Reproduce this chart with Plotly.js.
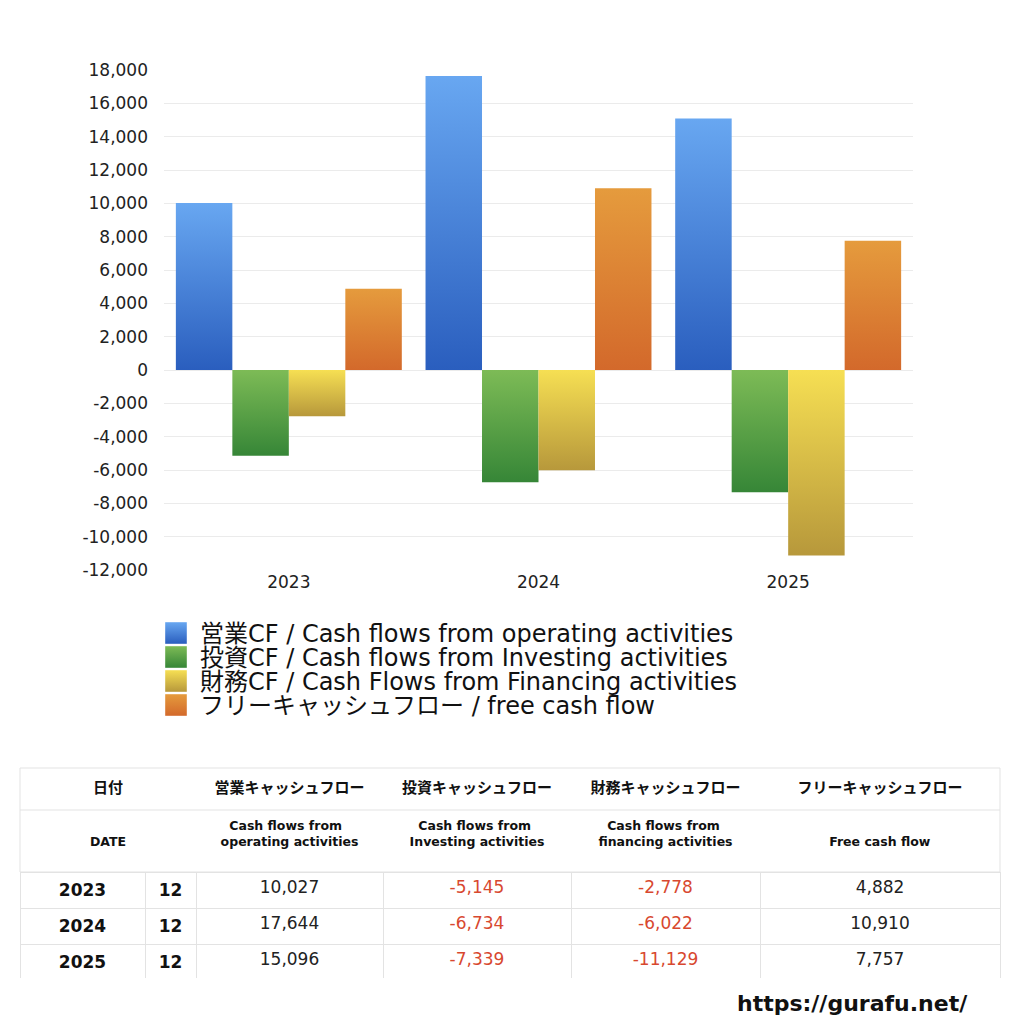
<!DOCTYPE html>
<html><head><meta charset="utf-8">
<script src="https://cdn.plot.ly/plotly-3.0.1.min.js"></script>
<style>html,body{margin:0;padding:0;background:#fff;}#chart{width:1024px;height:1024px;}</style>
</head><body><div id="chart"></div>
<script>
// ---- data ----
const years = ['2023', '2024', '2025'];
const months = ['12', '12', '12'];
const operatingCF = [10027, 17644, 15096];
const investingCF = [-5145, -6734, -7339];
const financingCF = [-2778, -6022, -11129];
const freeCF = [4882, 10910, 7757];
const seriesNames = [
  '営業CF / Cash flows from operating activities',
  '投資CF / Cash flows from Investing activities',
  '財務CF / Cash Flows from Financing activities',
  'フリーキャッシュフロー / free cash flow'
];
const tableHeaderJP = ['日付', '営業キャッシュフロー', '投資キャッシュフロー', '財務キャッシュフロー', 'フリーキャッシュフロー'];
const tableHeaderEN = ['&nbsp;<br>DATE',
  '&nbsp;&nbsp;Cash flows from<br>operating activities',
  '&nbsp;&nbsp;Cash flows from<br>Investing activities',
  '&nbsp;&nbsp;Cash flows from<br>financing activities',
  '&nbsp;<br>Free cash flow'];
const yTickVals = [-12000,-10000,-8000,-6000,-4000,-2000,0,2000,4000,6000,8000,10000,12000,14000,16000,18000];

// ---- style ----
const gradients = [
  ['#68a7f1', '#2a5ebe'],
  ['#7dbb56', '#368637'],
  ['#f6df53', '#b7983b'],
  ['#e59b3d', '#d3692b']
];
const midColors = ['#4a84d8', '#5aa047', '#d7bd48', '#dc8234'];
const FONT = '"DejaVu Sans", "Noto Sans CJK JP", sans-serif';
const FONTJP = '"Noto Sans CJK JP", "DejaVu Sans", sans-serif';
const W = 1024, H = 1024;
const px = v => v / W, py = v => 1 - v / H;
const fmt = v => v.toLocaleString('en-US');
const RED = '#d8482f', DARK = '#222222', LINE = '#e3e3e3';

const seriesValues = [operatingCF, investingCF, financingCF, freeCF];
const traces = seriesValues.map((vals, i) => ({
  type: 'bar', x: years, y: vals, name: seriesNames[i],
  marker: {color: midColors[i], line: {width: 0}},
  hoverinfo: 'none'
}));

const colColor = v => v < 0 ? RED : DARK;

// Header table (Japanese + English rows)
traces.push({
  type: 'table',
  domain: {x: [px(20), px(1000)], y: [py(872), py(768)]},
  columnwidth: [176, 187, 188, 189, 240],
  header: {
    values: tableHeaderJP.map(t => '<b>' + t + '</b>'),
    height: 42, align: 'center', fill: {color: '#ffffff'},
    line: {color: '#ffffff', width: 1},
    font: {family: FONTJP, size: 15, color: '#111'}
  },
  cells: {
    values: tableHeaderEN.map(t => ['<b>' + t + '</b>']),
    height: 62, align: 'center', fill: {color: '#ffffff'},
    line: {color: '#ffffff', width: 1},
    font: {family: FONT, size: 12.5, color: '#111'}
  }
});

// Data table: first row in header slot, remaining rows as cells
const dataCols = [years.map(y => '<b>' + y + '</b>'), months.map(m => '<b>' + m + '</b>'),
  operatingCF.map(fmt), investingCF.map(fmt), financingCF.map(fmt), freeCF.map(fmt)];
const rawCols = [null, null, operatingCF, investingCF, financingCF, freeCF];
traces.push({
  type: 'table',
  domain: {x: [px(20), px(1000)], y: [py(978), py(872)]},
  columnwidth: [125, 51, 187, 188, 189, 240],
  header: {
    values: dataCols.map(c => c[0]),
    height: 36, align: 'center', fill: {color: '#ffffff'},
    line: {color: LINE, width: 1},
    font: {family: FONT, size: 17, color: rawCols.map(c => c ? colColor(c[0]) : '#111')}
  },
  cells: {
    values: dataCols.map(c => c.slice(1)),
    height: 36, align: 'center', fill: {color: '#ffffff'},
    line: {color: LINE, width: 1},
    font: {family: FONT, size: 17,
      color: rawCols.map(c => c ? c.slice(1).map(colColor) : ['#111', '#111'])}
  }
});

const layout = {
  width: W, height: H,
  margin: {l: 0, r: 0, t: 0, b: 0},
  paper_bgcolor: '#ffffff', plot_bgcolor: '#ffffff',
  font: {family: FONT, color: '#222'},
  barmode: 'group', bargap: 0.095, bargroupgap: 0,
  showlegend: true,
  legend: {
    x: px(160), y: py(621), xanchor: 'left', yanchor: 'top',
    font: {family: FONT, size: 24, color: '#111'},
    bgcolor: 'rgba(0,0,0,0)', tracegroupgap: 0, traceorder: 'normal'
  },
  xaxis: {
    domain: [px(164), px(913)], anchor: 'y',
    type: 'category', showgrid: false, zeroline: false, showline: false,
    tickfont: {family: FONT, size: 17, color: '#222'}, ticks: '', fixedrange: true
  },
  yaxis: {
    domain: [py(570), py(70)], anchor: 'x',
    range: [-12000, 18000], tickvals: yTickVals, ticktext: yTickVals.map(fmt),
    showgrid: true, gridcolor: '#ebebeb', gridwidth: 1,
    zeroline: true, zerolinecolor: '#ebebeb', zerolinewidth: 1,
    showline: false, ticks: '', ticklabelstandoff: 15,
    tickfont: {family: FONT, size: 17, color: '#222'}, fixedrange: true
  },
  shapes: [
    {type: 'rect', xref: 'paper', yref: 'paper', x0: px(20), x1: px(1000), y0: py(872), y1: py(768),
      line: {color: LINE, width: 1}, fillcolor: 'rgba(0,0,0,0)', layer: 'above'},
    {type: 'line', xref: 'paper', yref: 'paper', x0: px(20), x1: px(1000), y0: py(810), y1: py(810),
      line: {color: LINE, width: 1}, layer: 'above'}
  ],
  annotations: [{
    text: '<b>https://gurafu.net/</b>', xref: 'paper', yref: 'paper',
    x: px(970), y: py(1003), xanchor: 'right', yanchor: 'middle', showarrow: false,
    font: {family: FONT, size: 22, color: '#111'}
  }]
};

function applyGradients(gd) {
  const svg = gd.querySelector('svg.main-svg');
  const NS = 'http://www.w3.org/2000/svg';
  let defs = svg.querySelector('defs');
  if (!defs) { defs = document.createElementNS(NS, 'defs'); svg.insertBefore(defs, svg.firstChild); }
  gradients.forEach((g, i) => {
    const lg = document.createElementNS(NS, 'linearGradient');
    lg.setAttribute('id', 'cfgrad' + i);
    lg.setAttribute('x1', '0'); lg.setAttribute('y1', '0');
    lg.setAttribute('x2', '0'); lg.setAttribute('y2', '1');
    [[0, g[0]], [1, g[1]]].forEach(([o, c]) => {
      const s = document.createElementNS(NS, 'stop');
      s.setAttribute('offset', o); s.setAttribute('stop-color', c);
      lg.appendChild(s);
    });
    defs.appendChild(lg);
  });
  gd.querySelectorAll('.barlayer .trace').forEach((t, i) => {
    t.querySelectorAll('path').forEach(p => { p.style.fill = 'url(#cfgrad' + i + ')'; });
  });
  gd.querySelectorAll('.legend .traces').forEach((t, i) => {
    t.setAttribute('transform', 'translate(0,' + (i * 24 + 12) + ')');
    t.querySelectorAll('.legendpoints path').forEach(p => {
      p.style.fill = 'url(#cfgrad' + i + ')';
      p.setAttribute('transform', 'translate(16,0) scale(1.8)');
      p.style.strokeWidth = '0';
    });
  });
}

Plotly.newPlot('chart', traces, layout, {displayModeBar: false, staticPlot: true}).then(applyGradients);
</script>
</body></html>
